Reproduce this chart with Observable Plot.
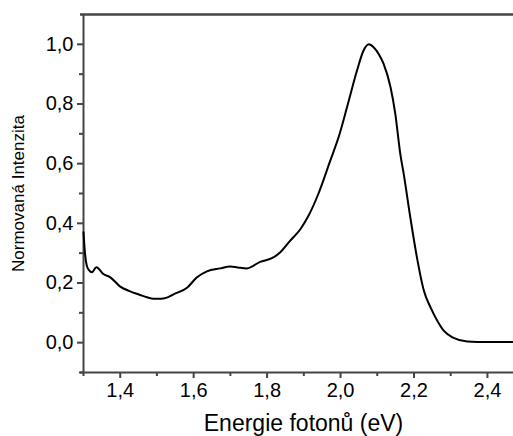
<!DOCTYPE html>
<html><head><meta charset="utf-8">
<script src="https://cdn.jsdelivr.net/npm/d3@7"></script>
<script src="https://cdn.jsdelivr.net/npm/@observablehq/plot@0.6"></script>
<style>body{margin:0;background:#fff}</style>
</head><body><div id="chart"></div>
<script>
const energy = [1.300,1.304,1.309,1.315,1.323,1.335,1.354,1.373,1.400,1.427,1.454,1.473,1.490,1.510,1.527,1.545,1.582,1.609,1.636,1.672,1.700,1.720,1.745,1.781,1.813,1.836,1.863,1.891,1.913,1.940,1.972,1.995,2.020,2.045,2.063,2.077,2.090,2.105,2.117,2.136,2.149,2.163,2.172,2.190,2.208,2.227,2.245,2.265,2.281,2.308,2.345,2.400,2.471];
const intensity = [0.37,0.30,0.258,0.243,0.236,0.253,0.23,0.219,0.188,0.172,0.16,0.152,0.147,0.147,0.151,0.162,0.184,0.219,0.239,0.249,0.255,0.252,0.249,0.271,0.283,0.303,0.342,0.381,0.426,0.50,0.61,0.69,0.80,0.913,0.98,1.0,0.99,0.965,0.935,0.857,0.768,0.63,0.566,0.42,0.286,0.174,0.118,0.07,0.04,0.016,0.004,0.002,0.002];
const xMajor = [1.4,1.6,1.8,2.0,2.2,2.4];
const xMinor = [1.3,1.5,1.7,1.9,2.1,2.3];
const yMajor = [0,0.2,0.4,0.6,0.8,1.0];
const yMinor = [-0.1,0.1,0.3,0.5,0.7,0.9];
const xTitle = "Energie fotonů (eV)";
const yTitle = "Normovaná Intenzita";

const data = energy.map((x, i) => ({x, y: intensity[i]}));
const fmt = d => d3.format(".1f")(d).replace(".", ",");
const axisColor = "#444";

const chart = Plot.plot({
  width: 513, height: 436,
  marginTop: 14, marginLeft: 83, marginRight: 0, marginBottom: 64,
  x: {domain: [1.3, 2.471]},
  y: {domain: [-0.1, 1.1]},
  style: {fontFamily: "'Liberation Sans', Arial, sans-serif", background: "#fff", color: "#000"},
  marks: [
    Plot.axisY(yMinor, {tickSize: 4, tickFormat: () => "", stroke: axisColor, strokeWidth: 2, label: null}),
    Plot.axisY(yMajor, {tickSize: 6, tickPadding: 4, tickFormat: fmt, fontSize: 20, stroke: axisColor, strokeWidth: 2, fill: "#000", label: null}),
    Plot.axisX(xMinor, {tickSize: 4, tickFormat: () => "", stroke: axisColor, strokeWidth: 2, label: null}),
    Plot.axisX(xMajor, {tickSize: 6, tickPadding: 4, tickFormat: fmt, fontSize: 20, stroke: axisColor, strokeWidth: 2, fill: "#000", label: null}),
    Plot.ruleX([1.3], {stroke: axisColor, strokeWidth: 2}),
    Plot.ruleY([-0.1], {stroke: axisColor, strokeWidth: 2, insetLeft: -3}),
    Plot.ruleY([1.1], {stroke: axisColor, strokeWidth: 2.5, insetLeft: -3}),
    Plot.line(data, {x: "x", y: "y", stroke: "#000", strokeWidth: 2, curve: "monotone-x"}),
    Plot.text([xTitle], {frameAnchor: "bottom", dy: 58, dx: 5, fontSize: 23, fill: "#000"}),
    Plot.text([yTitle], {frameAnchor: "left", textAnchor: "middle", rotate: -90, dx: -65, fontSize: 17, fill: "#000"})
  ]
});
document.getElementById("chart").append(chart);
</script>
</body></html>
